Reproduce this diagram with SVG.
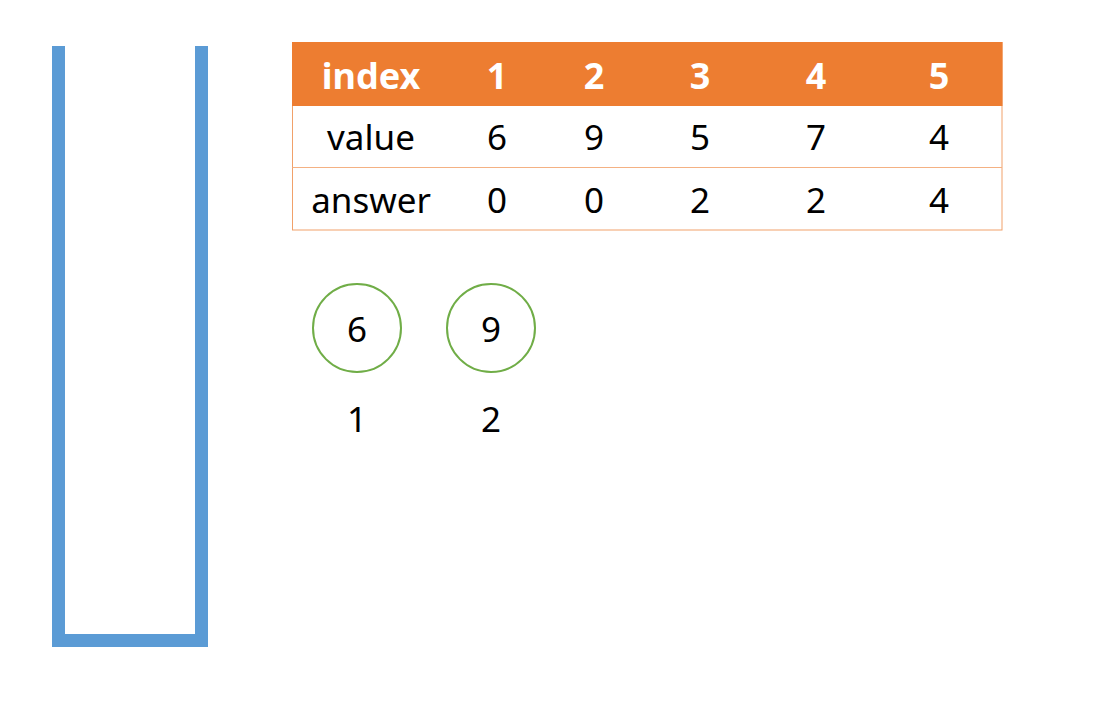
<svg xmlns="http://www.w3.org/2000/svg" width="1109" height="722" viewBox="0 0 1109 722">
<style>
.t{font-family:"Noto Sans","Open Sans",sans-serif;font-size:35px;text-anchor:middle;fill:#000}
.h{font-family:"Noto Sans","Open Sans",sans-serif;font-size:36px;font-weight:bold;text-anchor:middle;fill:#fff}
.c{fill:#fff;stroke:#70AD47;stroke-width:2}
</style>
<rect width="1109" height="722" fill="#fff"/>
<g id="stack">
<path d="M58.5 46 V640.5 H201.5 V46" fill="none" stroke="#5B9BD5" stroke-width="13"/>
</g>
<g id="table">
<rect x="292.5" y="42.5" width="709.5" height="187.5" fill="#fff" stroke="#F1A16A" stroke-width="1"/>
<rect x="292" y="42" width="710.5" height="64" fill="#ED7D31"/>
<line x1="292.5" y1="167.5" x2="1002" y2="167.5" stroke="#F4B183" stroke-width="1"/>
<text class="h" x="371" y="89">index</text>
<text class="h" x="497" y="89">1</text>
<text class="h" x="594" y="89">2</text>
<text class="h" x="700" y="89">3</text>
<text class="h" x="816" y="89">4</text>
<text class="h" x="939" y="89">5</text>
<text class="t" x="371" y="150">value</text>
<text class="t" x="497" y="150">6</text>
<text class="t" x="594" y="150">9</text>
<text class="t" x="700" y="150">5</text>
<text class="t" x="816" y="150">7</text>
<text class="t" x="939" y="150">4</text>
<text class="t" x="371" y="213">answer</text>
<text class="t" x="497" y="213">0</text>
<text class="t" x="594" y="213">0</text>
<text class="t" x="700" y="213">2</text>
<text class="t" x="816" y="213">2</text>
<text class="t" x="939" y="213">4</text>
</g>
<g id="node1">
<circle class="c" cx="357" cy="328" r="44"/>
<text class="t" x="357" y="342">6</text>
<text class="t" x="357" y="432">1</text>
</g>
<g id="node2">
<circle class="c" cx="491" cy="328" r="44"/>
<text class="t" x="491" y="342">9</text>
<text class="t" x="491" y="432">2</text>
</g>
<g id="connectors"/>
</svg>
